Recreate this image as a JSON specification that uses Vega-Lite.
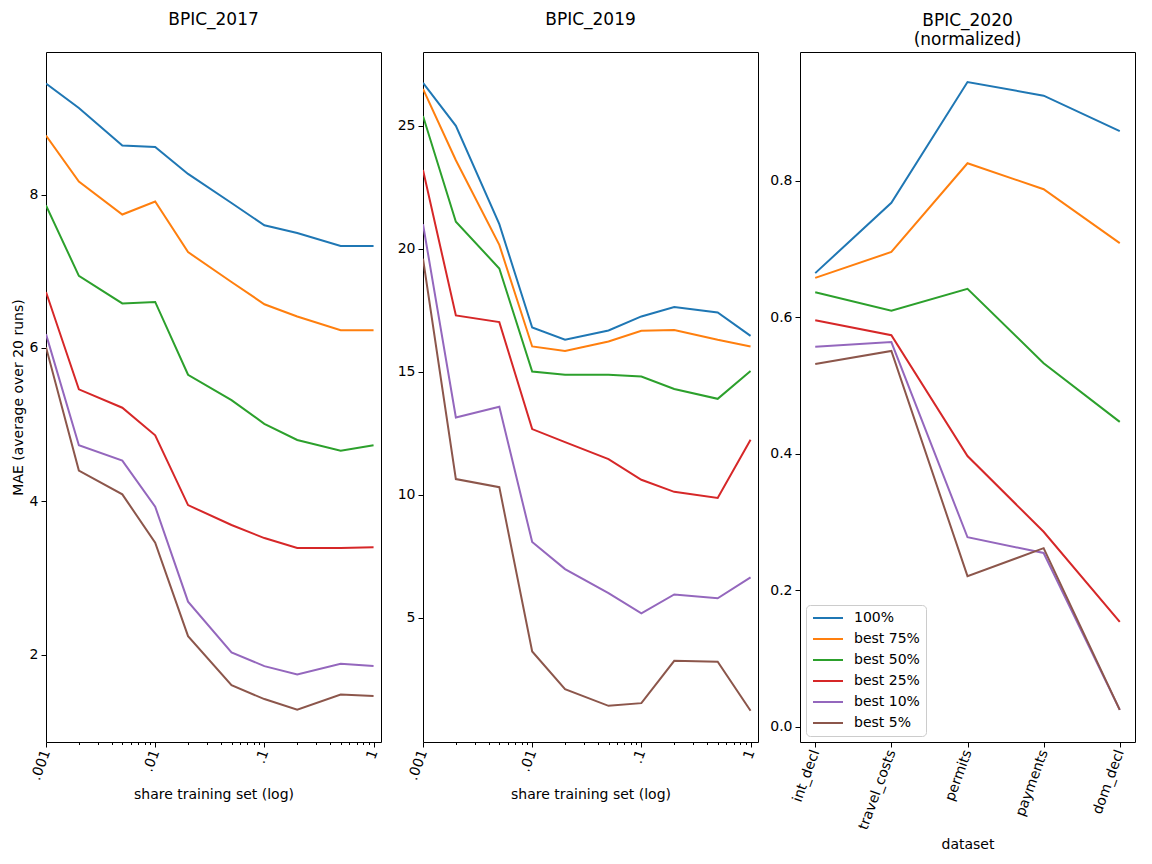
{
  "$schema": "https://vega.github.io/schema/vega-lite/v6.json",
  "padding": {"left": 10, "top": 10, "right": 10, "bottom": 5},
  "config": {
    "font": "DejaVu Sans",
    "view": {"stroke": "#000", "strokeWidth": 1},
    "axis": {
      "grid": false,
      "domain": false,
      "tickColor": "#000",
      "tickSize": 5,
      "labelColor": "#000",
      "titleColor": "#000",
      "labelFontSize": 14,
      "titleFontSize": 14,
      "titleFontWeight": "normal",
      "labelPadding": 3
    },
    "title": {"fontSize": 17, "fontWeight": "normal", "color": "#000"},
    "line": {"strokeWidth": 2}
  },
  "datasets": {
    "p2017": [
      {"series": "100%", "share": 0.001, "mae": 9.45}, {"series": "100%", "share": 0.002, "mae": 9.13}, {"series": "100%", "share": 0.005, "mae": 8.64}, {"series": "100%", "share": 0.01, "mae": 8.62}, {"series": "100%", "share": 0.02, "mae": 8.27}, {"series": "100%", "share": 0.05, "mae": 7.89}, {"series": "100%", "share": 0.1, "mae": 7.6}, {"series": "100%", "share": 0.2, "mae": 7.5}, {"series": "100%", "share": 0.5, "mae": 7.33}, {"series": "100%", "share": 1, "mae": 7.33},
      {"series": "best 75%", "share": 0.001, "mae": 8.77}, {"series": "best 75%", "share": 0.002, "mae": 8.17}, {"series": "best 75%", "share": 0.005, "mae": 7.74}, {"series": "best 75%", "share": 0.01, "mae": 7.91}, {"series": "best 75%", "share": 0.02, "mae": 7.25}, {"series": "best 75%", "share": 0.05, "mae": 6.86}, {"series": "best 75%", "share": 0.1, "mae": 6.57}, {"series": "best 75%", "share": 0.2, "mae": 6.41}, {"series": "best 75%", "share": 0.5, "mae": 6.23}, {"series": "best 75%", "share": 1, "mae": 6.23},
      {"series": "best 50%", "share": 0.001, "mae": 7.86}, {"series": "best 50%", "share": 0.002, "mae": 6.94}, {"series": "best 50%", "share": 0.005, "mae": 6.58}, {"series": "best 50%", "share": 0.01, "mae": 6.6}, {"series": "best 50%", "share": 0.02, "mae": 5.65}, {"series": "best 50%", "share": 0.05, "mae": 5.32}, {"series": "best 50%", "share": 0.1, "mae": 5.01}, {"series": "best 50%", "share": 0.2, "mae": 4.8}, {"series": "best 50%", "share": 0.5, "mae": 4.66}, {"series": "best 50%", "share": 1, "mae": 4.73},
      {"series": "best 25%", "share": 0.001, "mae": 6.73}, {"series": "best 25%", "share": 0.002, "mae": 5.46}, {"series": "best 25%", "share": 0.005, "mae": 5.22}, {"series": "best 25%", "share": 0.01, "mae": 4.86}, {"series": "best 25%", "share": 0.02, "mae": 3.95}, {"series": "best 25%", "share": 0.05, "mae": 3.69}, {"series": "best 25%", "share": 0.1, "mae": 3.52}, {"series": "best 25%", "share": 0.2, "mae": 3.39}, {"series": "best 25%", "share": 0.5, "mae": 3.39}, {"series": "best 25%", "share": 1, "mae": 3.4},
      {"series": "best 10%", "share": 0.001, "mae": 6.18}, {"series": "best 10%", "share": 0.002, "mae": 4.73}, {"series": "best 10%", "share": 0.005, "mae": 4.53}, {"series": "best 10%", "share": 0.01, "mae": 3.93}, {"series": "best 10%", "share": 0.02, "mae": 2.69}, {"series": "best 10%", "share": 0.05, "mae": 2.03}, {"series": "best 10%", "share": 0.1, "mae": 1.85}, {"series": "best 10%", "share": 0.2, "mae": 1.74}, {"series": "best 10%", "share": 0.5, "mae": 1.88}, {"series": "best 10%", "share": 1, "mae": 1.85},
      {"series": "best 5%", "share": 0.001, "mae": 6.01}, {"series": "best 5%", "share": 0.002, "mae": 4.4}, {"series": "best 5%", "share": 0.005, "mae": 4.09}, {"series": "best 5%", "share": 0.01, "mae": 3.46}, {"series": "best 5%", "share": 0.02, "mae": 2.24}, {"series": "best 5%", "share": 0.05, "mae": 1.6}, {"series": "best 5%", "share": 0.1, "mae": 1.42}, {"series": "best 5%", "share": 0.2, "mae": 1.28}, {"series": "best 5%", "share": 0.5, "mae": 1.48}, {"series": "best 5%", "share": 1, "mae": 1.46}
    ],
    "p2019": [
      {"series": "100%", "share": 0.001, "mae": 26.75}, {"series": "100%", "share": 0.002, "mae": 25.0}, {"series": "100%", "share": 0.005, "mae": 21.0}, {"series": "100%", "share": 0.01, "mae": 16.8}, {"series": "100%", "share": 0.02, "mae": 16.3}, {"series": "100%", "share": 0.05, "mae": 16.68}, {"series": "100%", "share": 0.1, "mae": 17.25}, {"series": "100%", "share": 0.2, "mae": 17.63}, {"series": "100%", "share": 0.5, "mae": 17.41}, {"series": "100%", "share": 1, "mae": 16.46},
      {"series": "best 75%", "share": 0.001, "mae": 26.5}, {"series": "best 75%", "share": 0.002, "mae": 23.6}, {"series": "best 75%", "share": 0.005, "mae": 20.16}, {"series": "best 75%", "share": 0.01, "mae": 16.03}, {"series": "best 75%", "share": 0.02, "mae": 15.85}, {"series": "best 75%", "share": 0.05, "mae": 16.23}, {"series": "best 75%", "share": 0.1, "mae": 16.67}, {"series": "best 75%", "share": 0.2, "mae": 16.7}, {"series": "best 75%", "share": 0.5, "mae": 16.3}, {"series": "best 75%", "share": 1, "mae": 16.03},
      {"series": "best 50%", "share": 0.001, "mae": 25.4}, {"series": "best 50%", "share": 0.002, "mae": 21.1}, {"series": "best 50%", "share": 0.005, "mae": 19.2}, {"series": "best 50%", "share": 0.01, "mae": 15.01}, {"series": "best 50%", "share": 0.02, "mae": 14.88}, {"series": "best 50%", "share": 0.05, "mae": 14.88}, {"series": "best 50%", "share": 0.1, "mae": 14.81}, {"series": "best 50%", "share": 0.2, "mae": 14.3}, {"series": "best 50%", "share": 0.5, "mae": 13.9}, {"series": "best 50%", "share": 1, "mae": 15.03},
      {"series": "best 25%", "share": 0.001, "mae": 23.2}, {"series": "best 25%", "share": 0.002, "mae": 17.29}, {"series": "best 25%", "share": 0.005, "mae": 17.02}, {"series": "best 25%", "share": 0.01, "mae": 12.67}, {"series": "best 25%", "share": 0.02, "mae": 12.14}, {"series": "best 25%", "share": 0.05, "mae": 11.45}, {"series": "best 25%", "share": 0.1, "mae": 10.61}, {"series": "best 25%", "share": 0.2, "mae": 10.12}, {"series": "best 25%", "share": 0.5, "mae": 9.87}, {"series": "best 25%", "share": 1, "mae": 12.24},
      {"series": "best 10%", "share": 0.001, "mae": 21.0}, {"series": "best 10%", "share": 0.002, "mae": 13.14}, {"series": "best 10%", "share": 0.005, "mae": 13.58}, {"series": "best 10%", "share": 0.01, "mae": 8.08}, {"series": "best 10%", "share": 0.02, "mae": 6.98}, {"series": "best 10%", "share": 0.05, "mae": 6.0}, {"series": "best 10%", "share": 0.1, "mae": 5.18}, {"series": "best 10%", "share": 0.2, "mae": 5.95}, {"series": "best 10%", "share": 0.5, "mae": 5.79}, {"series": "best 10%", "share": 1, "mae": 6.64},
      {"series": "best 5%", "share": 0.001, "mae": 19.6}, {"series": "best 5%", "share": 0.002, "mae": 10.64}, {"series": "best 5%", "share": 0.005, "mae": 10.31}, {"series": "best 5%", "share": 0.01, "mae": 3.63}, {"series": "best 5%", "share": 0.02, "mae": 2.1}, {"series": "best 5%", "share": 0.05, "mae": 1.42}, {"series": "best 5%", "share": 0.1, "mae": 1.53}, {"series": "best 5%", "share": 0.2, "mae": 3.25}, {"series": "best 5%", "share": 0.5, "mae": 3.21}, {"series": "best 5%", "share": 1, "mae": 1.22}
    ],
    "p2020": [
      {"series": "100%", "dataset": "int_decl", "mae": 0.665}, {"series": "100%", "dataset": "travel_costs", "mae": 0.768}, {"series": "100%", "dataset": "permits", "mae": 0.945}, {"series": "100%", "dataset": "payments", "mae": 0.925}, {"series": "100%", "dataset": "dom_decl", "mae": 0.873},
      {"series": "best 75%", "dataset": "int_decl", "mae": 0.658}, {"series": "best 75%", "dataset": "travel_costs", "mae": 0.696}, {"series": "best 75%", "dataset": "permits", "mae": 0.826}, {"series": "best 75%", "dataset": "payments", "mae": 0.788}, {"series": "best 75%", "dataset": "dom_decl", "mae": 0.709},
      {"series": "best 50%", "dataset": "int_decl", "mae": 0.637}, {"series": "best 50%", "dataset": "travel_costs", "mae": 0.61}, {"series": "best 50%", "dataset": "permits", "mae": 0.642}, {"series": "best 50%", "dataset": "payments", "mae": 0.533}, {"series": "best 50%", "dataset": "dom_decl", "mae": 0.447},
      {"series": "best 25%", "dataset": "int_decl", "mae": 0.596}, {"series": "best 25%", "dataset": "travel_costs", "mae": 0.574}, {"series": "best 25%", "dataset": "permits", "mae": 0.397}, {"series": "best 25%", "dataset": "payments", "mae": 0.286}, {"series": "best 25%", "dataset": "dom_decl", "mae": 0.154},
      {"series": "best 10%", "dataset": "int_decl", "mae": 0.557}, {"series": "best 10%", "dataset": "travel_costs", "mae": 0.564}, {"series": "best 10%", "dataset": "permits", "mae": 0.278}, {"series": "best 10%", "dataset": "payments", "mae": 0.255}, {"series": "best 10%", "dataset": "dom_decl", "mae": 0.025},
      {"series": "best 5%", "dataset": "int_decl", "mae": 0.532}, {"series": "best 5%", "dataset": "travel_costs", "mae": 0.551}, {"series": "best 5%", "dataset": "permits", "mae": 0.221}, {"series": "best 5%", "dataset": "payments", "mae": 0.262}, {"series": "best 5%", "dataset": "dom_decl", "mae": 0.025}
    ]
  },
  "bounds": "flush",
  "spacing": 42,
  "resolve": {"scale": {"x": "independent", "y": "independent", "color": "independent"}},
  "hconcat": [
    {
      "title": {"text": "BPIC_2017", "offset": 23},
      "width": 335,
      "height": 690,
      "data": {"name": "p2017"},
      "mark": {"type": "line", "clip": true},
      "encoding": {
        "x": {
          "field": "share",
          "type": "quantitative",
          "scale": {"type": "log", "domain": [0.001, 1.17], "nice": false},
          "axis": {
            "title": "share training set (log)",
            "values": [0.001, 0.002, 0.003, 0.004, 0.005, 0.006, 0.007, 0.008, 0.009, 0.01, 0.02, 0.03, 0.04, 0.05, 0.06, 0.07, 0.08, 0.09, 0.1, 0.2, 0.3, 0.4, 0.5, 0.6, 0.7, 0.8, 0.9, 1],
            "labelExpr": "abs(log(datum.value)/LN10 - round(log(datum.value)/LN10)) < 0.001 ? replace(format(datum.value, ''), '0.', '.') : ''",
            "tickSize": {"condition": {"test": "abs(log(datum.value)/LN10 - round(log(datum.value)/LN10)) < 0.001", "value": 5}, "value": 2.5},
            "labelAngle": -70,
            "labelOverlap": false,
            "labelBound": false,
            "titlePadding": 6
          }
        },
        "y": {
          "field": "mae",
          "type": "quantitative",
          "scale": {"domain": [0.86, 9.86], "nice": false, "zero": false},
          "axis": {"title": "MAE (average over 20 runs)", "values": [2, 4, 6, 8], "titlePadding": 4}
        },
        "color": {
          "field": "series",
          "type": "nominal",
          "scale": {"domain": ["100%", "best 75%", "best 50%", "best 25%", "best 10%", "best 5%"], "range": ["#1f77b4", "#ff7f0e", "#2ca02c", "#d62728", "#9467bd", "#8c564b"]},
          "legend": null
        }
      }
    },
    {
      "title": {"text": "BPIC_2019", "offset": 23},
      "width": 335,
      "height": 690,
      "data": {"name": "p2019"},
      "mark": {"type": "line", "clip": true},
      "encoding": {
        "x": {
          "field": "share",
          "type": "quantitative",
          "scale": {"type": "log", "domain": [0.001, 1.17], "nice": false},
          "axis": {
            "title": "share training set (log)",
            "values": [0.001, 0.002, 0.003, 0.004, 0.005, 0.006, 0.007, 0.008, 0.009, 0.01, 0.02, 0.03, 0.04, 0.05, 0.06, 0.07, 0.08, 0.09, 0.1, 0.2, 0.3, 0.4, 0.5, 0.6, 0.7, 0.8, 0.9, 1],
            "labelExpr": "abs(log(datum.value)/LN10 - round(log(datum.value)/LN10)) < 0.001 ? replace(format(datum.value, ''), '0.', '.') : ''",
            "tickSize": {"condition": {"test": "abs(log(datum.value)/LN10 - round(log(datum.value)/LN10)) < 0.001", "value": 5}, "value": 2.5},
            "labelAngle": -70,
            "labelOverlap": false,
            "labelBound": false,
            "titlePadding": 6
          }
        },
        "y": {
          "field": "mae",
          "type": "quantitative",
          "scale": {"domain": [-0.05, 28.0], "nice": false, "zero": false},
          "axis": {"title": null, "values": [5, 10, 15, 20, 25]}
        },
        "color": {
          "field": "series",
          "type": "nominal",
          "scale": {"domain": ["100%", "best 75%", "best 50%", "best 25%", "best 10%", "best 5%"], "range": ["#1f77b4", "#ff7f0e", "#2ca02c", "#d62728", "#9467bd", "#8c564b"]},
          "legend": null
        }
      }
    },
    {
      "title": {"text": ["BPIC_2020", "(normalized)"], "offset": 3, "lineHeight": 19},
      "width": 335,
      "height": 690,
      "data": {"name": "p2020"},
      "mark": {"type": "line", "clip": true},
      "encoding": {
        "x": {
          "field": "dataset",
          "type": "nominal",
          "sort": ["int_decl", "travel_costs", "permits", "payments", "dom_decl"],
          "scale": {"type": "point", "padding": 0.2},
          "axis": {"title": "dataset", "labelAngle": -70, "titlePadding": 6}
        },
        "y": {
          "field": "mae",
          "type": "quantitative",
          "scale": {"domain": [-0.022, 0.989], "nice": false, "zero": false},
          "axis": {"title": null, "values": [0, 0.2, 0.4, 0.6, 0.8], "format": ".1f"}
        },
        "color": {
          "field": "series",
          "type": "nominal",
          "scale": {"domain": ["100%", "best 75%", "best 50%", "best 25%", "best 10%", "best 5%"], "range": ["#1f77b4", "#ff7f0e", "#2ca02c", "#d62728", "#9467bd", "#8c564b"]},
          "legend": {
            "title": null,
            "orient": "bottom-left",
            "offset": 6,
            "padding": 6,
            "symbolType": "M-1,0H4",
            "symbolSize": 144,
            "symbolStrokeWidth": 2,
            "labelFontSize": 14,
            "labelColor": "#000",
            "labelOffset": 28,
            "rowPadding": 7,
            "strokeColor": "#cccccc",
            "fillColor": "#ffffff",
            "cornerRadius": 4
          }
        }
      }
    }
  ]
}
